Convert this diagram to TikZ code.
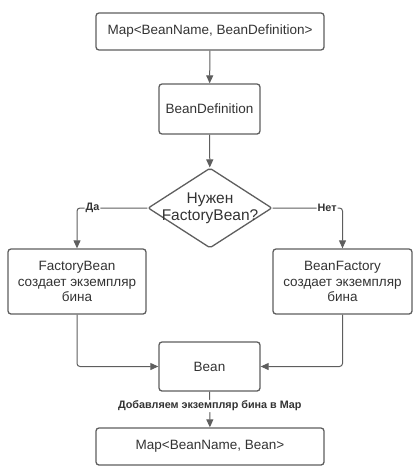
\documentclass[tikz,border=0pt]{standalone}
\usepackage{fontspec}
\setmainfont{Liberation Sans}
\usetikzlibrary{shapes.geometric, arrows.meta}
\definecolor{linegray}{HTML}{5E5E5E}
\definecolor{textgray}{HTML}{333333}
\tikzset{
  stepbox/.style={draw=linegray, line width=1.3pt, rounded corners=3pt, align=center,
    font=\fontsize{13.5}{15.5}\selectfont, text=textgray, inner sep=0pt},
  decision/.style={draw=linegray, line width=1.3pt, diamond, rounded corners=2pt,
    minimum width=124pt, minimum height=80pt, inner sep=0pt},
  flow/.style={draw=linegray, line width=1pt, rounded corners=3pt,
    -{Triangle[length=8pt, width=7pt]}},
  edgelabel/.style={fill=white, font=\fontsize{10.8}{12}\bfseries, text=textgray, inner sep=1pt}
}
\begin{document}
\begin{tikzpicture}[x=1pt, y=-1pt]
\useasboundingbox (0,0) rectangle (419,469);

% Boxes
\node[stepbox, minimum width=228pt, minimum height=37pt] (mapdef) at (210,31.5) {Map<BeanName, BeanDefinition>};
\node[stepbox, minimum width=101pt, minimum height=50pt] (beandef) at (209.5,109) {BeanDefinition};
\node[decision] (need) at (210,208) {};
\node[align=center, font=\fontsize{15.5}{17}\selectfont, text=textgray] (needtext) at (need.center) {Нужен\\FactoryBean?};
\node[stepbox, minimum width=138pt, minimum height=65pt] (factbean) at (77,281.5) {FactoryBean\\создает экземпляр\\бина};
\node[stepbox, minimum width=139pt, minimum height=65pt] (beanfact) at (342.5,281.5) {BeanFactory\\создает экземпляр\\бина};
\node[stepbox, minimum width=101pt, minimum height=49pt] (bean) at (209.5,366.5) {Bean};
\node[stepbox, minimum width=228pt, minimum height=37pt] (mapbean) at (210,446.5) {Map<BeanName, Bean>};

% Connectors
\draw[flow] (mapdef) -- (beandef);
\draw[flow] (beandef) -- (need);
\draw[flow] (need.west) -| node[edgelabel, pos=0.39] {Да} (factbean.north);
\draw[flow] (need.east) -| node[edgelabel, pos=0.39] {Нет} (beanfact.north);
\draw[flow] (factbean.south) |- (bean.west);
\draw[flow] (beanfact.south) |- (bean.east);
\draw[flow] (bean) -- node[edgelabel, pos=0.4] {Добавляем экземпляр бина в Map} (mapbean);

\end{tikzpicture}
\end{document}
